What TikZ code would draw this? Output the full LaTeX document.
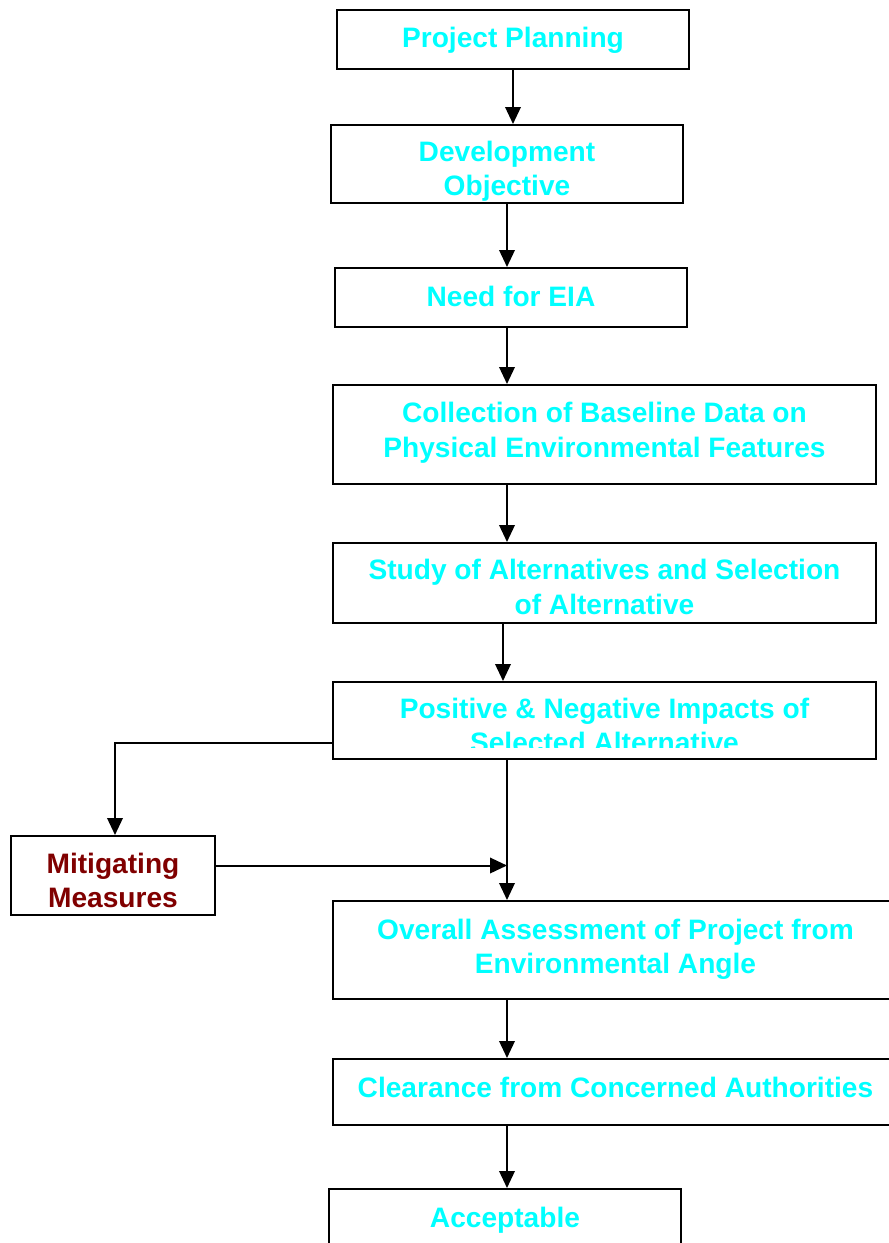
\documentclass[tikz,border=0pt]{standalone}
\usepackage{fontspec}
\setmainfont{Liberation Sans}
\usetikzlibrary{arrows.meta}
\definecolor{eiacyan}{RGB}{0,255,255}
\definecolor{eiared}{RGB}{128,0,0}
\begin{document}
\begin{tikzpicture}[line width=0.57pt,
  box/.style={draw=black, inner sep=0pt},
  txt/.style={inner sep=0pt, align=center, font=\fontsize{8}{9.8}\selectfont\bfseries, text=eiacyan},
  arr/.style={-{Triangle[length=0.17cm,width=0.155cm]}}]
\useasboundingbox (0,0) rectangle (8.88,-12.43);
\coordinate (spine) at (5.07,0);
\node[box, minimum width=3.52cm, minimum height=0.59cm] (pp) at (5.13,-0.395) {};
\node[txt] (pp-t) at (5.13,-0.405) {Project Planning};
\node[box, minimum width=3.52cm, minimum height=0.78cm] (dev) at (5.07,-1.64) {};
\node[txt] (dev-t) at (5.07,-1.71) {Development\\Objective};
\node[box, minimum width=3.52cm, minimum height=0.59cm] (need) at (5.11,-2.975) {};
\node[txt] (need-t) at (5.11,-2.965) {Need for EIA};
\node[box, minimum width=5.43cm, minimum height=0.99cm] (coll) at (6.045,-4.345) {};
\node[txt] (coll-t) at (6.045,-4.325) {Collection of Baseline Data on\\Physical Environmental Features};
\node[box, minimum width=5.43cm, minimum height=0.80cm] (study) at (6.045,-5.83) {};
\node[txt] (study-t) at (6.045,-5.87) {Study of Alternatives and Selection\\of Alternative};
\node[box, minimum width=5.43cm, minimum height=0.77cm] (pos) at (6.045,-7.205) {};
\node[txt] (pos-t) at (6.045,-7.255) {Positive \& Negative Impacts of\\Selected Alternative};
\fill[white] (3.42,-7.48) rectangle (8.67,-7.577);
\node[box, minimum width=2.04cm, minimum height=0.79cm] (mit) at (1.13,-8.755) {};
\node[txt, text=eiared] (mit-t) at (1.13,-8.805) {Mitigating\\Measures};
\node[box, minimum width=5.66cm, minimum height=0.98cm] (over) at (6.16,-9.50) {};
\node[txt] (over-t) at (6.155,-9.49) {Overall Assessment of Project from\\Environmental Angle};
\node[box, minimum width=5.66cm, minimum height=0.66cm] (clear) at (6.16,-10.92) {};
\node[txt] (clear-t) at (6.155,-10.87) {Clearance from Concerned Authorities};
\node[box, minimum width=3.52cm, minimum height=0.56cm] (acc) at (5.05,-12.17) {};
\node[txt] (acc-t) at (5.05,-12.20) {Acceptable};
\draw[arr] (pp.south) -- (pp.south |- dev.north);
\draw[arr] (dev.south) -- (dev.south |- need.north);
\draw[arr] (need.south -| spine) -- (coll.north -| spine);
\draw[arr] (coll.south -| spine) -- (study.north -| spine);
\draw[arr] ([xshift=-0.4mm]study.south -| spine) -- ([xshift=-0.4mm]pos.north -| spine);
\draw[arr] (pos.south -| spine) -- (over.north -| spine);
\draw[arr] ([yshift=-2.25mm]pos.west) -| ([xshift=0.2mm]mit.north);
\draw[arr] ([yshift=1mm]mit.east) -- ([yshift=1mm]mit.east -| spine);
\draw[arr] (over.south -| spine) -- (clear.north -| spine);
\draw[arr] (clear.south -| spine) -- (acc.north -| spine);
\end{tikzpicture}
\end{document}
